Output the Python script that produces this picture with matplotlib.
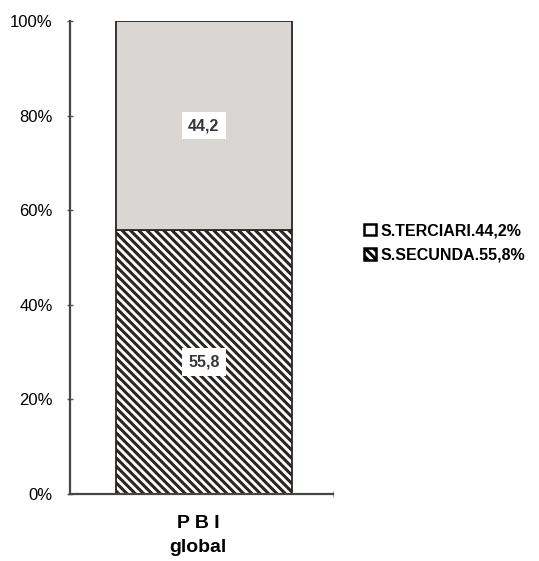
import numpy as np
import matplotlib
matplotlib.use("Agg")
import matplotlib.pyplot as plt
from matplotlib.patches import Patch

plt.rcParams['font.family'] = ['Liberation Sans', 'DejaVu Sans']
plt.rcParams['hatch.linewidth'] = 2.2

category = "P B I\nglobal"
secundario = 55.8
terciario = 44.2
labels = ["S.TERCIARI.44,2%", "S.SECUNDA.55,8%"]
yticks = [0, 20, 40, 60, 80, 100]

fig = plt.figure(figsize=(5.39, 5.61), dpi=100)
ax = fig.add_axes([0.130, 0.1194, 0.488, 0.8432])

b1 = ax.bar(0.508, secundario, width=0.67, color='white', edgecolor='#2b2524',
            hatch='\\\\\\\\', linewidth=1.3)
b2 = ax.bar(0.508, terciario, bottom=secundario, width=0.67, color='#dad6d3',
            edgecolor='#2b2524', linewidth=1.3)

# value boxes in the middle of each segment
for val, base in [(secundario, 0), (terciario, secundario)]:
    ax.text(0.508, base + val / 2, ("%.1f" % val).replace('.', ','), ha='center', va='center',
            fontsize=11.5, fontweight='bold', color='#3a3535',
            bbox=dict(boxstyle='square,pad=0.4', facecolor='white', edgecolor='none'))

ax.set_xlim(0, 1)
ax.set_ylim(0, 100)
ax.set_yticks(yticks)
ax.set_yticklabels(["%d%%" % t for t in yticks], fontsize=12)
ax.tick_params(axis='y', direction='inout', length=5, width=1, color='#555', pad=10)
ax.set_xticks([1])
ax.set_xticklabels([''])
ax.tick_params(axis='x', direction='inout', length=5, width=0.8, color='#aaa')
for s in ['top', 'right']:
    ax.spines[s].set_visible(False)
for s in ['left', 'bottom']:
    ax.spines[s].set_color('#4a4444')
    ax.spines[s].set_linewidth(1.6)

fig.text(0.367, 0.045, category, ha='center', va='center', fontsize=14,
         fontweight='bold', linespacing=1.55)

handles = [Patch(facecolor='white', edgecolor='black', linewidth=1.8),
           Patch(facecolor='white', edgecolor='black', hatch='\\\\\\\\', linewidth=1.8)]
fig.legend(handles, labels, loc='center left', bbox_to_anchor=(0.675, 0.567),
           frameon=False, borderpad=0, borderaxespad=0,
           handlelength=0.75, handleheight=0.75, handletextpad=0.3,
           labelspacing=0.6, prop={'size': 11.5, 'weight': 'bold'})

fig.savefig("out.png", dpi=100)
